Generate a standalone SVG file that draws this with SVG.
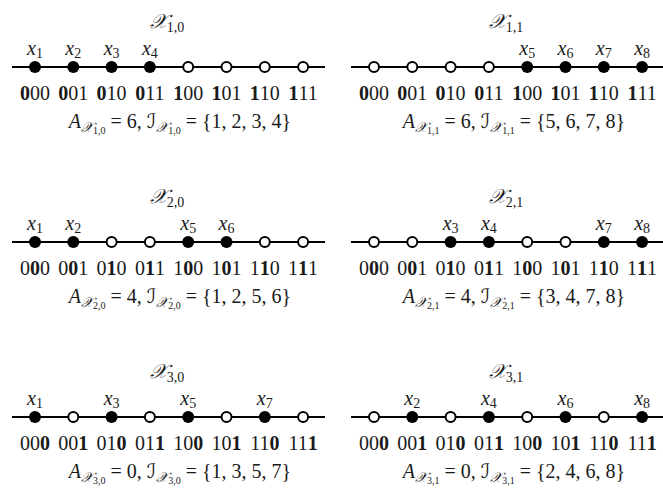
<svg xmlns="http://www.w3.org/2000/svg" width="663" height="488" viewBox="0 0 663 488">
<style>
.ln{stroke:#000;stroke-width:2;fill:none}
.f{fill:#000}
.o{fill:#fff;stroke:#000;stroke-width:2}
text{font-family:"Liberation Serif","DejaVu Serif",serif;font-size:20px;fill:#1a1a1a}
.i{font-style:italic}
.cal{font-family:"DejaVu Serif","DejaVu Sans",serif;font-style:italic}
.s{font-size:14px}
.ss{font-size:10px}
.b{font-weight:bold}
</style>
<rect width="663" height="488" fill="#fff"/>
<g id="connectors">
<line class="ln" x1="12" y1="67" x2="325" y2="67"/>
<line class="ln" x1="351" y1="67" x2="664" y2="67"/>
<line class="ln" x1="12" y1="242" x2="325" y2="242"/>
<line class="ln" x1="351" y1="242" x2="664" y2="242"/>
<line class="ln" x1="12" y1="417" x2="325" y2="417"/>
<line class="ln" x1="351" y1="417" x2="664" y2="417"/>
</g>

<g id="panel-1-0">
<text x="167" y="28" text-anchor="middle"><tspan class="cal">𝒳</tspan><tspan class="s" dy="4">1,0</tspan></text>
<circle class="f" cx="35" cy="67" r="6"/><circle class="f" cx="73.3" cy="67" r="6"/><circle class="f" cx="111.6" cy="67" r="6"/><circle class="f" cx="149.9" cy="67" r="6"/>
<circle class="o" cx="188.2" cy="67" r="5"/><circle class="o" cx="226.5" cy="67" r="5"/><circle class="o" cx="264.8" cy="67" r="5"/><circle class="o" cx="303.1" cy="67" r="5"/>
<text x="35" y="55" text-anchor="middle"><tspan class="i">x</tspan><tspan class="s" dy="3">1</tspan></text>
<text x="73.3" y="55" text-anchor="middle"><tspan class="i">x</tspan><tspan class="s" dy="3">2</tspan></text>
<text x="111.6" y="55" text-anchor="middle"><tspan class="i">x</tspan><tspan class="s" dy="3">3</tspan></text>
<text x="149.9" y="55" text-anchor="middle"><tspan class="i">x</tspan><tspan class="s" dy="3">4</tspan></text>
<text x="35" y="100" text-anchor="middle"><tspan class="b">0</tspan>00</text>
<text x="73.3" y="100" text-anchor="middle"><tspan class="b">0</tspan>01</text>
<text x="111.6" y="100" text-anchor="middle"><tspan class="b">0</tspan>10</text>
<text x="149.9" y="100" text-anchor="middle"><tspan class="b">0</tspan>11</text>
<text x="188.2" y="100" text-anchor="middle"><tspan class="b">1</tspan>00</text>
<text x="226.5" y="100" text-anchor="middle"><tspan class="b">1</tspan>01</text>
<text x="264.8" y="100" text-anchor="middle"><tspan class="b">1</tspan>10</text>
<text x="303.1" y="100" text-anchor="middle"><tspan class="b">1</tspan>11</text>
<text x="180" y="128" text-anchor="middle"><tspan class="i">A</tspan><tspan class="cal s" dy="4">𝒳</tspan><tspan class="ss" dy="2">1,0</tspan><tspan dy="-6"> = 6, </tspan><tspan class="cal">ℐ</tspan><tspan class="cal s" dy="4">𝒳</tspan><tspan class="ss" dy="2">1,0</tspan><tspan dy="-6"> = {1, 2, 3, 4}</tspan></text>
</g>

<g id="panel-1-1">
<text x="506" y="28" text-anchor="middle"><tspan class="cal">𝒳</tspan><tspan class="s" dy="4">1,1</tspan></text>
<circle class="o" cx="374" cy="67" r="5"/><circle class="o" cx="412.3" cy="67" r="5"/><circle class="o" cx="450.6" cy="67" r="5"/><circle class="o" cx="488.9" cy="67" r="5"/>
<circle class="f" cx="527.2" cy="67" r="6"/><circle class="f" cx="565.5" cy="67" r="6"/><circle class="f" cx="603.8" cy="67" r="6"/><circle class="f" cx="642.1" cy="67" r="6"/>
<text x="527.2" y="55" text-anchor="middle"><tspan class="i">x</tspan><tspan class="s" dy="3">5</tspan></text>
<text x="565.5" y="55" text-anchor="middle"><tspan class="i">x</tspan><tspan class="s" dy="3">6</tspan></text>
<text x="603.8" y="55" text-anchor="middle"><tspan class="i">x</tspan><tspan class="s" dy="3">7</tspan></text>
<text x="642.1" y="55" text-anchor="middle"><tspan class="i">x</tspan><tspan class="s" dy="3">8</tspan></text>
<text x="374" y="100" text-anchor="middle"><tspan class="b">0</tspan>00</text>
<text x="412.3" y="100" text-anchor="middle"><tspan class="b">0</tspan>01</text>
<text x="450.6" y="100" text-anchor="middle"><tspan class="b">0</tspan>10</text>
<text x="488.9" y="100" text-anchor="middle"><tspan class="b">0</tspan>11</text>
<text x="527.2" y="100" text-anchor="middle"><tspan class="b">1</tspan>00</text>
<text x="565.5" y="100" text-anchor="middle"><tspan class="b">1</tspan>01</text>
<text x="603.8" y="100" text-anchor="middle"><tspan class="b">1</tspan>10</text>
<text x="642.1" y="100" text-anchor="middle"><tspan class="b">1</tspan>11</text>
<text x="514" y="128" text-anchor="middle"><tspan class="i">A</tspan><tspan class="cal s" dy="4">𝒳</tspan><tspan class="ss" dy="2">1,1</tspan><tspan dy="-6"> = 6, </tspan><tspan class="cal">ℐ</tspan><tspan class="cal s" dy="4">𝒳</tspan><tspan class="ss" dy="2">1,1</tspan><tspan dy="-6"> = {5, 6, 7, 8}</tspan></text>
</g>

<g id="panel-2-0">
<text x="167" y="203" text-anchor="middle"><tspan class="cal">𝒳</tspan><tspan class="s" dy="4">2,0</tspan></text>
<circle class="f" cx="35" cy="242" r="6"/><circle class="f" cx="73.3" cy="242" r="6"/><circle class="o" cx="111.6" cy="242" r="5"/><circle class="o" cx="149.9" cy="242" r="5"/>
<circle class="f" cx="188.2" cy="242" r="6"/><circle class="f" cx="226.5" cy="242" r="6"/><circle class="o" cx="264.8" cy="242" r="5"/><circle class="o" cx="303.1" cy="242" r="5"/>
<text x="35" y="230" text-anchor="middle"><tspan class="i">x</tspan><tspan class="s" dy="3">1</tspan></text>
<text x="73.3" y="230" text-anchor="middle"><tspan class="i">x</tspan><tspan class="s" dy="3">2</tspan></text>
<text x="188.2" y="230" text-anchor="middle"><tspan class="i">x</tspan><tspan class="s" dy="3">5</tspan></text>
<text x="226.5" y="230" text-anchor="middle"><tspan class="i">x</tspan><tspan class="s" dy="3">6</tspan></text>
<text x="35" y="275" text-anchor="middle">0<tspan class="b">0</tspan>0</text>
<text x="73.3" y="275" text-anchor="middle">0<tspan class="b">0</tspan>1</text>
<text x="111.6" y="275" text-anchor="middle">0<tspan class="b">1</tspan>0</text>
<text x="149.9" y="275" text-anchor="middle">0<tspan class="b">1</tspan>1</text>
<text x="188.2" y="275" text-anchor="middle">1<tspan class="b">0</tspan>0</text>
<text x="226.5" y="275" text-anchor="middle">1<tspan class="b">0</tspan>1</text>
<text x="264.8" y="275" text-anchor="middle">1<tspan class="b">1</tspan>0</text>
<text x="303.1" y="275" text-anchor="middle">1<tspan class="b">1</tspan>1</text>
<text x="180" y="303" text-anchor="middle"><tspan class="i">A</tspan><tspan class="cal s" dy="4">𝒳</tspan><tspan class="ss" dy="2">2,0</tspan><tspan dy="-6"> = 4, </tspan><tspan class="cal">ℐ</tspan><tspan class="cal s" dy="4">𝒳</tspan><tspan class="ss" dy="2">2,0</tspan><tspan dy="-6"> = {1, 2, 5, 6}</tspan></text>
</g>

<g id="panel-2-1">
<text x="506" y="203" text-anchor="middle"><tspan class="cal">𝒳</tspan><tspan class="s" dy="4">2,1</tspan></text>
<circle class="o" cx="374" cy="242" r="5"/><circle class="o" cx="412.3" cy="242" r="5"/><circle class="f" cx="450.6" cy="242" r="6"/><circle class="f" cx="488.9" cy="242" r="6"/>
<circle class="o" cx="527.2" cy="242" r="5"/><circle class="o" cx="565.5" cy="242" r="5"/><circle class="f" cx="603.8" cy="242" r="6"/><circle class="f" cx="642.1" cy="242" r="6"/>
<text x="450.6" y="230" text-anchor="middle"><tspan class="i">x</tspan><tspan class="s" dy="3">3</tspan></text>
<text x="488.9" y="230" text-anchor="middle"><tspan class="i">x</tspan><tspan class="s" dy="3">4</tspan></text>
<text x="603.8" y="230" text-anchor="middle"><tspan class="i">x</tspan><tspan class="s" dy="3">7</tspan></text>
<text x="642.1" y="230" text-anchor="middle"><tspan class="i">x</tspan><tspan class="s" dy="3">8</tspan></text>
<text x="374" y="275" text-anchor="middle">0<tspan class="b">0</tspan>0</text>
<text x="412.3" y="275" text-anchor="middle">0<tspan class="b">0</tspan>1</text>
<text x="450.6" y="275" text-anchor="middle">0<tspan class="b">1</tspan>0</text>
<text x="488.9" y="275" text-anchor="middle">0<tspan class="b">1</tspan>1</text>
<text x="527.2" y="275" text-anchor="middle">1<tspan class="b">0</tspan>0</text>
<text x="565.5" y="275" text-anchor="middle">1<tspan class="b">0</tspan>1</text>
<text x="603.8" y="275" text-anchor="middle">1<tspan class="b">1</tspan>0</text>
<text x="642.1" y="275" text-anchor="middle">1<tspan class="b">1</tspan>1</text>
<text x="514" y="303" text-anchor="middle"><tspan class="i">A</tspan><tspan class="cal s" dy="4">𝒳</tspan><tspan class="ss" dy="2">2,1</tspan><tspan dy="-6"> = 4, </tspan><tspan class="cal">ℐ</tspan><tspan class="cal s" dy="4">𝒳</tspan><tspan class="ss" dy="2">2,1</tspan><tspan dy="-6"> = {3, 4, 7, 8}</tspan></text>
</g>

<g id="panel-3-0">
<text x="167" y="378" text-anchor="middle"><tspan class="cal">𝒳</tspan><tspan class="s" dy="4">3,0</tspan></text>
<circle class="f" cx="35" cy="417" r="6"/><circle class="o" cx="73.3" cy="417" r="5"/><circle class="f" cx="111.6" cy="417" r="6"/><circle class="o" cx="149.9" cy="417" r="5"/>
<circle class="f" cx="188.2" cy="417" r="6"/><circle class="o" cx="226.5" cy="417" r="5"/><circle class="f" cx="264.8" cy="417" r="6"/><circle class="o" cx="303.1" cy="417" r="5"/>
<text x="35" y="405" text-anchor="middle"><tspan class="i">x</tspan><tspan class="s" dy="3">1</tspan></text>
<text x="111.6" y="405" text-anchor="middle"><tspan class="i">x</tspan><tspan class="s" dy="3">3</tspan></text>
<text x="188.2" y="405" text-anchor="middle"><tspan class="i">x</tspan><tspan class="s" dy="3">5</tspan></text>
<text x="264.8" y="405" text-anchor="middle"><tspan class="i">x</tspan><tspan class="s" dy="3">7</tspan></text>
<text x="35" y="450" text-anchor="middle">00<tspan class="b">0</tspan></text>
<text x="73.3" y="450" text-anchor="middle">00<tspan class="b">1</tspan></text>
<text x="111.6" y="450" text-anchor="middle">01<tspan class="b">0</tspan></text>
<text x="149.9" y="450" text-anchor="middle">01<tspan class="b">1</tspan></text>
<text x="188.2" y="450" text-anchor="middle">10<tspan class="b">0</tspan></text>
<text x="226.5" y="450" text-anchor="middle">10<tspan class="b">1</tspan></text>
<text x="264.8" y="450" text-anchor="middle">11<tspan class="b">0</tspan></text>
<text x="303.1" y="450" text-anchor="middle">11<tspan class="b">1</tspan></text>
<text x="180" y="478" text-anchor="middle"><tspan class="i">A</tspan><tspan class="cal s" dy="4">𝒳</tspan><tspan class="ss" dy="2">3,0</tspan><tspan dy="-6"> = 0, </tspan><tspan class="cal">ℐ</tspan><tspan class="cal s" dy="4">𝒳</tspan><tspan class="ss" dy="2">3,0</tspan><tspan dy="-6"> = {1, 3, 5, 7}</tspan></text>
</g>

<g id="panel-3-1">
<text x="506" y="378" text-anchor="middle"><tspan class="cal">𝒳</tspan><tspan class="s" dy="4">3,1</tspan></text>
<circle class="o" cx="374" cy="417" r="5"/><circle class="f" cx="412.3" cy="417" r="6"/><circle class="o" cx="450.6" cy="417" r="5"/><circle class="f" cx="488.9" cy="417" r="6"/>
<circle class="o" cx="527.2" cy="417" r="5"/><circle class="f" cx="565.5" cy="417" r="6"/><circle class="o" cx="603.8" cy="417" r="5"/><circle class="f" cx="642.1" cy="417" r="6"/>
<text x="412.3" y="405" text-anchor="middle"><tspan class="i">x</tspan><tspan class="s" dy="3">2</tspan></text>
<text x="488.9" y="405" text-anchor="middle"><tspan class="i">x</tspan><tspan class="s" dy="3">4</tspan></text>
<text x="565.5" y="405" text-anchor="middle"><tspan class="i">x</tspan><tspan class="s" dy="3">6</tspan></text>
<text x="642.1" y="405" text-anchor="middle"><tspan class="i">x</tspan><tspan class="s" dy="3">8</tspan></text>
<text x="374" y="450" text-anchor="middle">00<tspan class="b">0</tspan></text>
<text x="412.3" y="450" text-anchor="middle">00<tspan class="b">1</tspan></text>
<text x="450.6" y="450" text-anchor="middle">01<tspan class="b">0</tspan></text>
<text x="488.9" y="450" text-anchor="middle">01<tspan class="b">1</tspan></text>
<text x="527.2" y="450" text-anchor="middle">10<tspan class="b">0</tspan></text>
<text x="565.5" y="450" text-anchor="middle">10<tspan class="b">1</tspan></text>
<text x="603.8" y="450" text-anchor="middle">11<tspan class="b">0</tspan></text>
<text x="642.1" y="450" text-anchor="middle">11<tspan class="b">1</tspan></text>
<text x="514" y="478" text-anchor="middle"><tspan class="i">A</tspan><tspan class="cal s" dy="4">𝒳</tspan><tspan class="ss" dy="2">3,1</tspan><tspan dy="-6"> = 0, </tspan><tspan class="cal">ℐ</tspan><tspan class="cal s" dy="4">𝒳</tspan><tspan class="ss" dy="2">3,1</tspan><tspan dy="-6"> = {2, 4, 6, 8}</tspan></text>
</g>
</svg>
